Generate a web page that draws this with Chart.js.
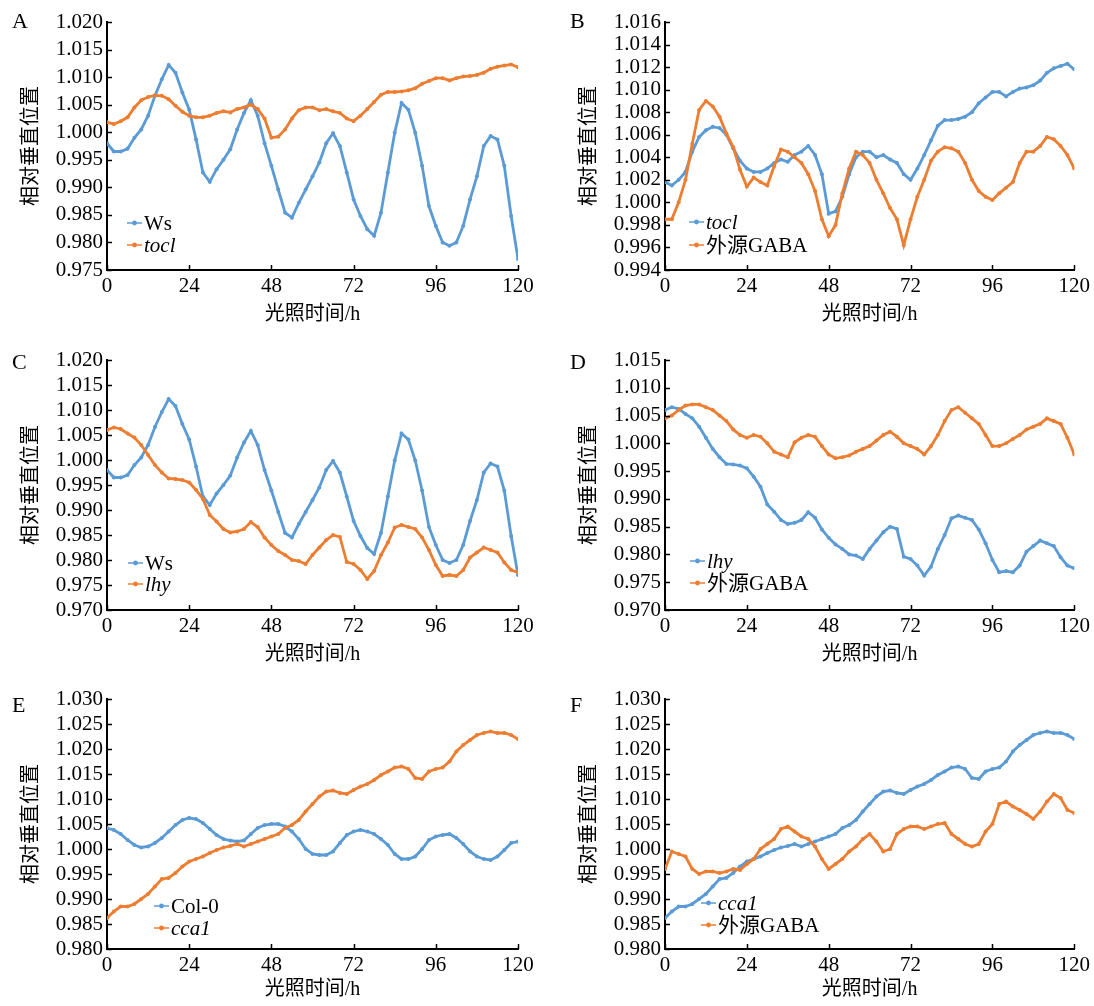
<!DOCTYPE html>
<html>
<head>
<meta charset="utf-8">
<script src="https://cdn.jsdelivr.net/npm/chart.js@4.4.1/dist/chart.umd.min.js"></script>
<style>
  body { margin: 0; background: #fff; width: 1094px; height: 1006px; position: relative; overflow: hidden; }
  canvas { position: absolute; }
</style>
</head>
<body>
<canvas id="chartA" width="547" height="335" style="left:0;top:0"></canvas>
<canvas id="chartB" width="536" height="335" style="left:558px;top:0"></canvas>
<canvas id="chartC" width="547" height="335" style="left:0;top:335px"></canvas>
<canvas id="chartD" width="536" height="335" style="left:558px;top:335px"></canvas>
<canvas id="chartE" width="547" height="336" style="left:0;top:670px"></canvas>
<canvas id="chartF" width="536" height="336" style="left:558px;top:670px"></canvas>
<script>
// time points (h)
var hours = [0, 2, 4, 6, 8, 10, 12, 14, 16, 18, 20, 22, 24, 26, 28, 30, 32, 34, 36, 38, 40,
  42, 44, 46, 48, 50, 52, 54, 56, 58, 60, 62, 64, 66, 68, 70, 72, 74, 76, 78, 80,
  82, 84, 86, 88, 90, 92, 94, 96, 98, 100, 102, 104, 106, 108, 110, 112, 114, 116, 118, 120];
var xTicks = [0, 24, 48, 72, 96, 120];
var yTicksA = [0.975, 0.980, 0.985, 0.990, 0.995, 1.000, 1.005, 1.010, 1.015, 1.020];
var yTicksB = [0.994, 0.996, 0.998, 1.000, 1.002, 1.004, 1.006, 1.008, 1.010, 1.012, 1.014, 1.016];
var yTicksC = [0.970, 0.975, 0.980, 0.985, 0.990, 0.995, 1.000, 1.005, 1.010, 1.015, 1.020];
var yTicksD = [0.970, 0.975, 0.980, 0.985, 0.990, 0.995, 1.000, 1.005, 1.010, 1.015];
var yTicksE = [0.980, 0.985, 0.990, 0.995, 1.000, 1.005, 1.010, 1.015, 1.020, 1.025, 1.030];

var wsVals = [0.998, 0.9965, 0.9965, 0.997, 0.999, 1.0005, 1.003, 1.0066, 1.0096, 1.0122, 1.0108,
  1.0072, 1.0041, 0.9987, 0.9927, 0.991, 0.9933, 0.995, 0.9969, 1.0005, 1.0035,
  1.0058, 1.003, 0.998, 0.9939, 0.9896, 0.9854, 0.9845, 0.9872, 0.9896, 0.992,
  0.9945, 0.998, 0.9998, 0.9975, 0.9927, 0.9878, 0.9848, 0.9824, 0.9812, 0.9854,
  0.9927, 0.9999, 1.0053, 1.0041, 0.9999, 0.9939, 0.9866, 0.983, 0.98, 0.9794,
  0.98, 0.983, 0.9878, 0.992, 0.9975, 0.9993, 0.9987, 0.9939, 0.9848, 0.977];
var toclVals = [1.0018, 1.0015, 1.002, 1.0027, 1.0045, 1.0058, 1.0064, 1.0067, 1.0066, 1.006, 1.0048,
  1.0037, 1.003, 1.0027, 1.0027, 1.003, 1.0035, 1.0038, 1.0036, 1.0042, 1.0045,
  1.005, 1.0042, 1.0025, 0.999, 0.9992, 1.0005, 1.0025, 1.004, 1.0045, 1.0045,
  1.004, 1.0042, 1.0038, 1.0035, 1.0025, 1.002, 1.003, 1.0042, 1.0055, 1.0068,
  1.0073, 1.0073, 1.0074, 1.0076, 1.008, 1.0088, 1.0093, 1.0098, 1.0098, 1.0094,
  1.0098, 1.0101, 1.0102, 1.0104, 1.0108, 1.0115, 1.0119, 1.0121, 1.0123, 1.0118];
var gabaBVals = [0.9985, 0.9985, 1.0, 1.002, 1.0052, 1.0082, 1.009, 1.0085, 1.0076, 1.0061, 1.0049,
  1.0029, 1.0014, 1.0022, 1.0018, 1.0015, 1.0032, 1.0047, 1.0045, 1.004, 1.0035,
  1.0025, 1.001, 0.9985, 0.997, 0.998, 1.0008, 1.003, 1.0045, 1.0042, 1.0035,
  1.002, 1.0008, 0.9995, 0.9985, 0.9962, 0.9985, 1.0005, 1.002, 1.0037, 1.0045,
  1.0049, 1.0048, 1.0045, 1.0035, 1.002, 1.001, 1.0005, 1.0002, 1.0008, 1.0013,
  1.0018, 1.0035, 1.0045, 1.0045, 1.005, 1.0058, 1.0056, 1.005, 1.0042, 1.003];
var lhyVals = [1.006, 1.0065, 1.0062, 1.0053, 1.0045, 1.003, 1.001, 0.999, 0.9975, 0.9963, 0.9962,
  0.996, 0.9955, 0.994, 0.9922, 0.989, 0.9877, 0.9862, 0.9855, 0.9857, 0.9862,
  0.9876, 0.9866, 0.9845, 0.983, 0.9818, 0.981, 0.98, 0.9798, 0.9792, 0.981,
  0.9825, 0.984, 0.985, 0.9846, 0.9796, 0.9792, 0.978, 0.9762, 0.9778, 0.981,
  0.9835, 0.9865, 0.987, 0.9866, 0.9862, 0.9845, 0.982, 0.979, 0.9768, 0.977,
  0.9768, 0.978, 0.9805, 0.9815, 0.9825, 0.982, 0.9815, 0.9795, 0.978, 0.9775];
var gabaDVals = [1.0045, 1.005, 1.006, 1.0068, 1.007, 1.007, 1.0065, 1.006, 1.005, 1.004, 1.0025,
  1.0015, 1.001, 1.0015, 1.0012, 1.0, 0.9985, 0.998, 0.9975, 1.0002, 1.001,
  1.0015, 1.0012, 0.9995, 0.998, 0.9973, 0.9975, 0.9978, 0.9985, 0.999, 0.9995,
  1.0005, 1.0015, 1.0021, 1.0012, 1.0, 0.9995, 0.999, 0.998, 0.9995, 1.0015,
  1.004, 1.006, 1.0065, 1.0055, 1.0045, 1.0035, 1.0015, 0.9995, 0.9995, 1.0,
  1.0008, 1.0015, 1.0025, 1.003, 1.0035, 1.0045, 1.004, 1.0035, 1.001, 0.998];
var col0Vals = [1.0042, 1.0038, 1.003, 1.0018, 1.0008, 1.0003, 1.0005, 1.0012, 1.0022, 1.0035, 1.0048,
  1.0058, 1.0062, 1.006, 1.0052, 1.004, 1.0028, 1.002, 1.0017, 1.0015, 1.0017,
  1.003, 1.0042, 1.0048, 1.005, 1.005, 1.0045, 1.0035, 1.002, 1.0, 0.999,
  0.9988, 0.9988, 0.9995, 1.0012, 1.0028, 1.0035, 1.0038, 1.0035, 1.003, 1.002,
  1.0008, 0.999, 0.998, 0.998, 0.9985, 1.0, 1.0018, 1.0025, 1.0028, 1.003,
  1.0022, 1.001, 0.9995, 0.9985, 0.998, 0.9978, 0.9985, 0.9998, 1.0012, 1.0015];
var cca1Vals = [0.9862, 0.9875, 0.9885, 0.9885, 0.989, 0.99, 0.991, 0.9925, 0.994, 0.9942, 0.9952,
  0.9965, 0.9975, 0.998, 0.9985, 0.9992, 0.9998, 1.0003, 1.0006, 1.001, 1.0005,
  1.001, 1.0015, 1.002, 1.0025, 1.003, 1.0042, 1.0048, 1.0058, 1.0075, 1.009,
  1.0105, 1.0115, 1.0117, 1.0112, 1.011, 1.0118, 1.0125, 1.013, 1.0138, 1.0148,
  1.0155, 1.0163, 1.0165, 1.016, 1.0142, 1.014, 1.0155, 1.016, 1.0163, 1.0175,
  1.0195, 1.0208, 1.0218, 1.0228, 1.0232, 1.0235, 1.0232, 1.0232, 1.0228, 1.022];
var gabaFVals = [0.996, 0.9995, 0.999, 0.9985, 0.996, 0.995, 0.9955, 0.9955, 0.9952, 0.9955, 0.996,
  0.9958, 0.997, 0.998, 1.0, 1.001, 1.002, 1.004, 1.0045, 1.0035, 1.0025,
  1.002, 1.0005, 0.998, 0.996, 0.997, 0.998, 0.9995, 1.0005, 1.002, 1.003,
  1.0015, 0.9995, 1.0, 1.003, 1.004, 1.0045, 1.0045, 1.004, 1.0045, 1.005,
  1.0052, 1.003, 1.002, 1.001, 1.0005, 1.001, 1.0035, 1.005, 1.009, 1.0095,
  1.0085, 1.0078, 1.007, 1.006, 1.0075, 1.0095, 1.011, 1.0102, 1.0078, 1.0072];

var BLUE = '#5b9bd5';
var ORANGE = '#ed7d31';
var SERIF = "'Liberation Serif', 'Times New Roman', 'Noto Sans CJK SC', serif";

function series(label, vals, color, italic) {
  return {
    label: label,
    italic: italic,
    data: hours.map(function (h, i) { return { x: h, y: vals[i] }; }),
    borderColor: color,
    backgroundColor: color,
    borderWidth: 2.8,
    pointRadius: 2,
    pointBorderWidth: 0,
    pointBackgroundColor: color,
    order: color === ORANGE ? 0 : 1
  };
}

// inward ticks, in-plot legend and panel letter
var decor = {
  id: 'decor',
  afterDraw: function (chart, args, opts) {
    var ctx = chart.ctx, a = chart.chartArea;
    var xs = chart.scales.x, ys = chart.scales.y;
    ctx.save();
    ctx.strokeStyle = '#000';
    ctx.lineWidth = 1.5;
    ctx.beginPath();
    xs.ticks.forEach(function (t) {
      var px = Math.round(xs.getPixelForValue(t.value)) + 0.5;
      ctx.moveTo(px, a.bottom);
      ctx.lineTo(px, a.bottom - 5);
    });
    ys.ticks.forEach(function (t) {
      var py = Math.round(ys.getPixelForValue(t.value)) + 0.5;
      ctx.moveTo(a.left, py);
      ctx.lineTo(a.left + 5, py);
    });
    ctx.stroke();

    chart.data.datasets.forEach(function (ds, i) {
      var lx = a.left + opts.legendX;
      var ly = a.bottom + opts.legendY[i];
      ctx.strokeStyle = ds.borderColor;
      ctx.fillStyle = ds.borderColor;
      ctx.lineWidth = 1.5;
      ctx.beginPath();
      ctx.moveTo(lx, ly);
      ctx.lineTo(lx + 15, ly);
      ctx.stroke();
      ctx.beginPath();
      ctx.arc(lx + 7.5, ly, 2.4, 0, Math.PI * 2);
      ctx.fill();
      ctx.fillStyle = '#000';
      ctx.font = (ds.italic ? 'italic ' : '') + '21px ' + SERIF;
      ctx.textBaseline = 'middle';
      ctx.textAlign = 'left';
      ctx.fillText(ds.label, lx + 17, ly + 1);
    });

    ctx.fillStyle = '#000';
    ctx.font = '22px ' + SERIF;
    ctx.textBaseline = 'alphabetic';
    ctx.fillText(opts.letter, 12, opts.letterY);
    ctx.restore();
  }
};

function makePanel(id, letter, datasets, yTicks, top, bottom, height, padRight, titlePad, legendX, legendY) {
  var ctx = document.getElementById(id).getContext('2d');
  new Chart(ctx, {
    type: 'line',
    data: { datasets: datasets },
    options: {
      responsive: false,
      animation: false,
      layout: { padding: { left: 0, right: padRight, top: top, bottom: 0 } },
      plugins: {
        legend: { display: false },
        tooltip: { enabled: false },
        decor: { letter: letter, letterY: top + 6 + (top - 22), legendX: legendX, legendY: legendY }
      },
      scales: {
        x: {
          type: 'linear',
          min: 0,
          max: 120,
          afterBuildTicks: function (scale) {
            scale.ticks = xTicks.map(function (v) { return { value: v }; });
          },
          afterFit: function (scale) { scale.height = height - bottom; },
          grid: { display: false, drawTicks: false },
          border: { display: true, color: '#000', width: 2 },
          ticks: {
            autoSkip: false,
            maxRotation: 0,
            padding: 4,
            color: '#000',
            font: { family: SERIF, size: 21 }
          },
          title: {
            display: true,
            text: '光照时间/h',
            color: '#000',
            font: { family: SERIF, size: 20 },
            padding: { top: 0, bottom: titlePad }
          }
        },
        y: {
          type: 'linear',
          min: yTicks[0],
          max: yTicks[yTicks.length - 1],
          afterBuildTicks: function (scale) {
            scale.ticks = yTicks.map(function (v) { return { value: v }; });
          },
          afterFit: function (scale) { scale.width = 107; },
          grid: { display: false, drawTicks: false },
          border: { display: true, color: '#000', width: 2 },
          ticks: {
            autoSkip: false,
            padding: 4,
            color: '#000',
            font: { family: SERIF, size: 21 },
            callback: function (v) { return Number(v).toFixed(3); }
          },
          title: {
            display: true,
            text: '相对垂直位置',
            color: '#000',
            font: { family: SERIF, size: 20 },
            padding: { top: 20, bottom: 0 }
          }
        }
      }
    },
    plugins: [decor]
  });
}

makePanel('chartA', 'A', [series('Ws', wsVals, BLUE, false), series('tocl', toclVals, ORANGE, true)],
  yTicksA, 22, 270, 335, 29, 8, 20, [-47, -25]);
makePanel('chartB', 'B', [series('tocl', toclVals, BLUE, true), series('外源GABA', gabaBVals, ORANGE, false)],
  yTicksB, 22, 270, 335, 19, 8, 24, [-48, -25]);
makePanel('chartC', 'C', [series('Ws', wsVals, BLUE, false), series('lhy', lhyVals, ORANGE, true)],
  yTicksC, 25, 275, 335, 29, 3, 21, [-47, -26]);
makePanel('chartD', 'D', [series('lhy', lhyVals, BLUE, true), series('外源GABA', gabaDVals, ORANGE, false)],
  yTicksD, 25, 275, 335, 19, 3, 25, [-49, -27]);
makePanel('chartE', 'E', [series('Col-0', col0Vals, BLUE, false), series('cca1', cca1Vals, ORANGE, true)],
  yTicksE, 29, 279, 336, 29, 4, 47, [-43, -21]);
makePanel('chartF', 'F', [series('cca1', cca1Vals, BLUE, true), series('外源GABA', gabaFVals, ORANGE, false)],
  yTicksE, 29, 279, 336, 19, 4, 36, [-46, -24]);
</script>
</body>
</html>
